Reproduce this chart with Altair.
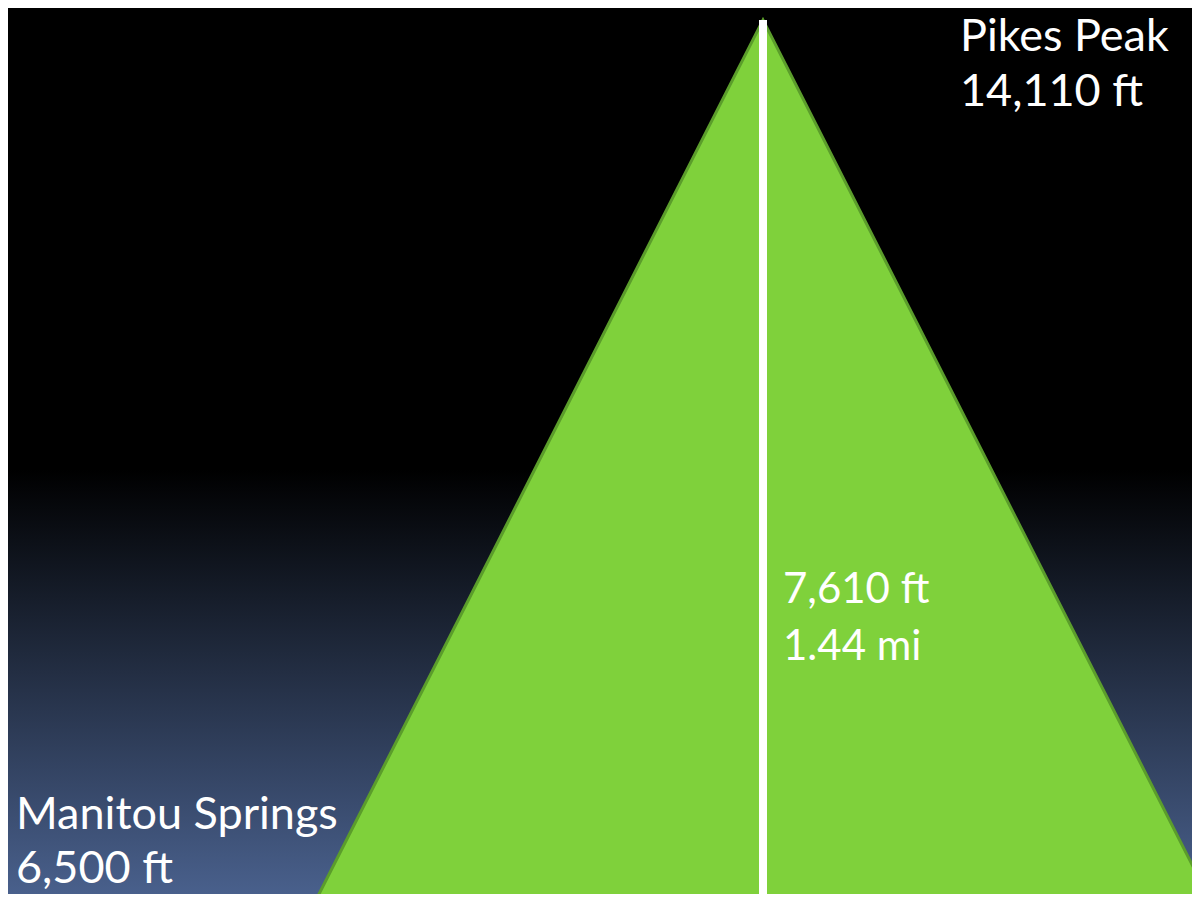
import altair as alt
import pandas as pd

# ---- data ----
place_names = ["Manitou Springs", "Pikes Peak"]
place_elev_ft = [6500, 14110]
profile_pos = [0, 1, 2]
profile_elev_ft = [6500, 14110, 6500]
climb_ft = 7610
climb_mi = 1.44

# plot area = page pixels 8..1192 x 8..894
W, H = 1184, 886
xs = alt.Scale(domain=[-0.689, 1.9597], nice=False, zero=False)
ys = alt.Scale(domain=[6551.9, 14213.8], nice=False, zero=False)

profile = pd.DataFrame({"pos": profile_pos, "elev": profile_elev_ft})
peak = pd.DataFrame({"pos": [profile_pos[1]], "elev": [place_elev_ft[1]]})
one = pd.DataFrame({"a": [0]})

bg = alt.Chart(one).mark_rect(
    color=alt.LinearGradient(
        gradient="linear",
        stops=[
            alt.GradientStop(color="#000000", offset=0),
            alt.GradientStop(color="#000000", offset=0.521),
            alt.GradientStop(color="#49608c", offset=1),
        ],
        x1=0, x2=0, y1=0, y2=1,
    )
).encode(x=alt.value(0), x2=alt.value(W), y=alt.value(0), y2=alt.value(H))

mount = alt.Chart(profile).mark_area(
    color="#7fd13b", stroke="#5b9d2b", strokeWidth=3, interpolate="linear", opacity=1
).encode(
    x=alt.X("pos:Q", scale=xs, axis=None),
    y=alt.Y("elev:Q", scale=ys, axis=None),
    y2=alt.datum(place_elev_ft[0]),
)

rule = alt.Chart(peak).mark_rule(color="white", strokeWidth=8).encode(
    x=alt.X("pos:Q", scale=xs, axis=None),
    y=alt.Y("elev:Q", scale=ys, axis=None),
    y2=alt.value(H),
)

FONT = "Lato"

def label(lines, x, y, size, lh):
    return alt.Chart(one).mark_text(
        text=lines, align="left", baseline="alphabetic", font=FONT,
        fontSize=size, lineHeight=lh, color="white",
    ).encode(x=alt.value(x), y=alt.value(y))

t_peak = label([place_names[1], f"{place_elev_ft[1]:,} ft"], 952, 43, 45, 55)
t_base = label([place_names[0], f"{place_elev_ft[0]:,} ft"], 8, 821, 45, 54)
t_mid = label([f"{climb_ft:,} ft", f"{climb_mi:.2f} mi"], 775, 595, 42, 57)

chart = alt.layer(bg, mount, rule, t_peak, t_base, t_mid).properties(
    width=W, height=H, padding=0, background="#000000",
    autosize=alt.AutoSizeParams(type="none"),
).configure_view(stroke=None)

chart.save("out.html", embed_options={"renderer": "svg", "actions": False})
